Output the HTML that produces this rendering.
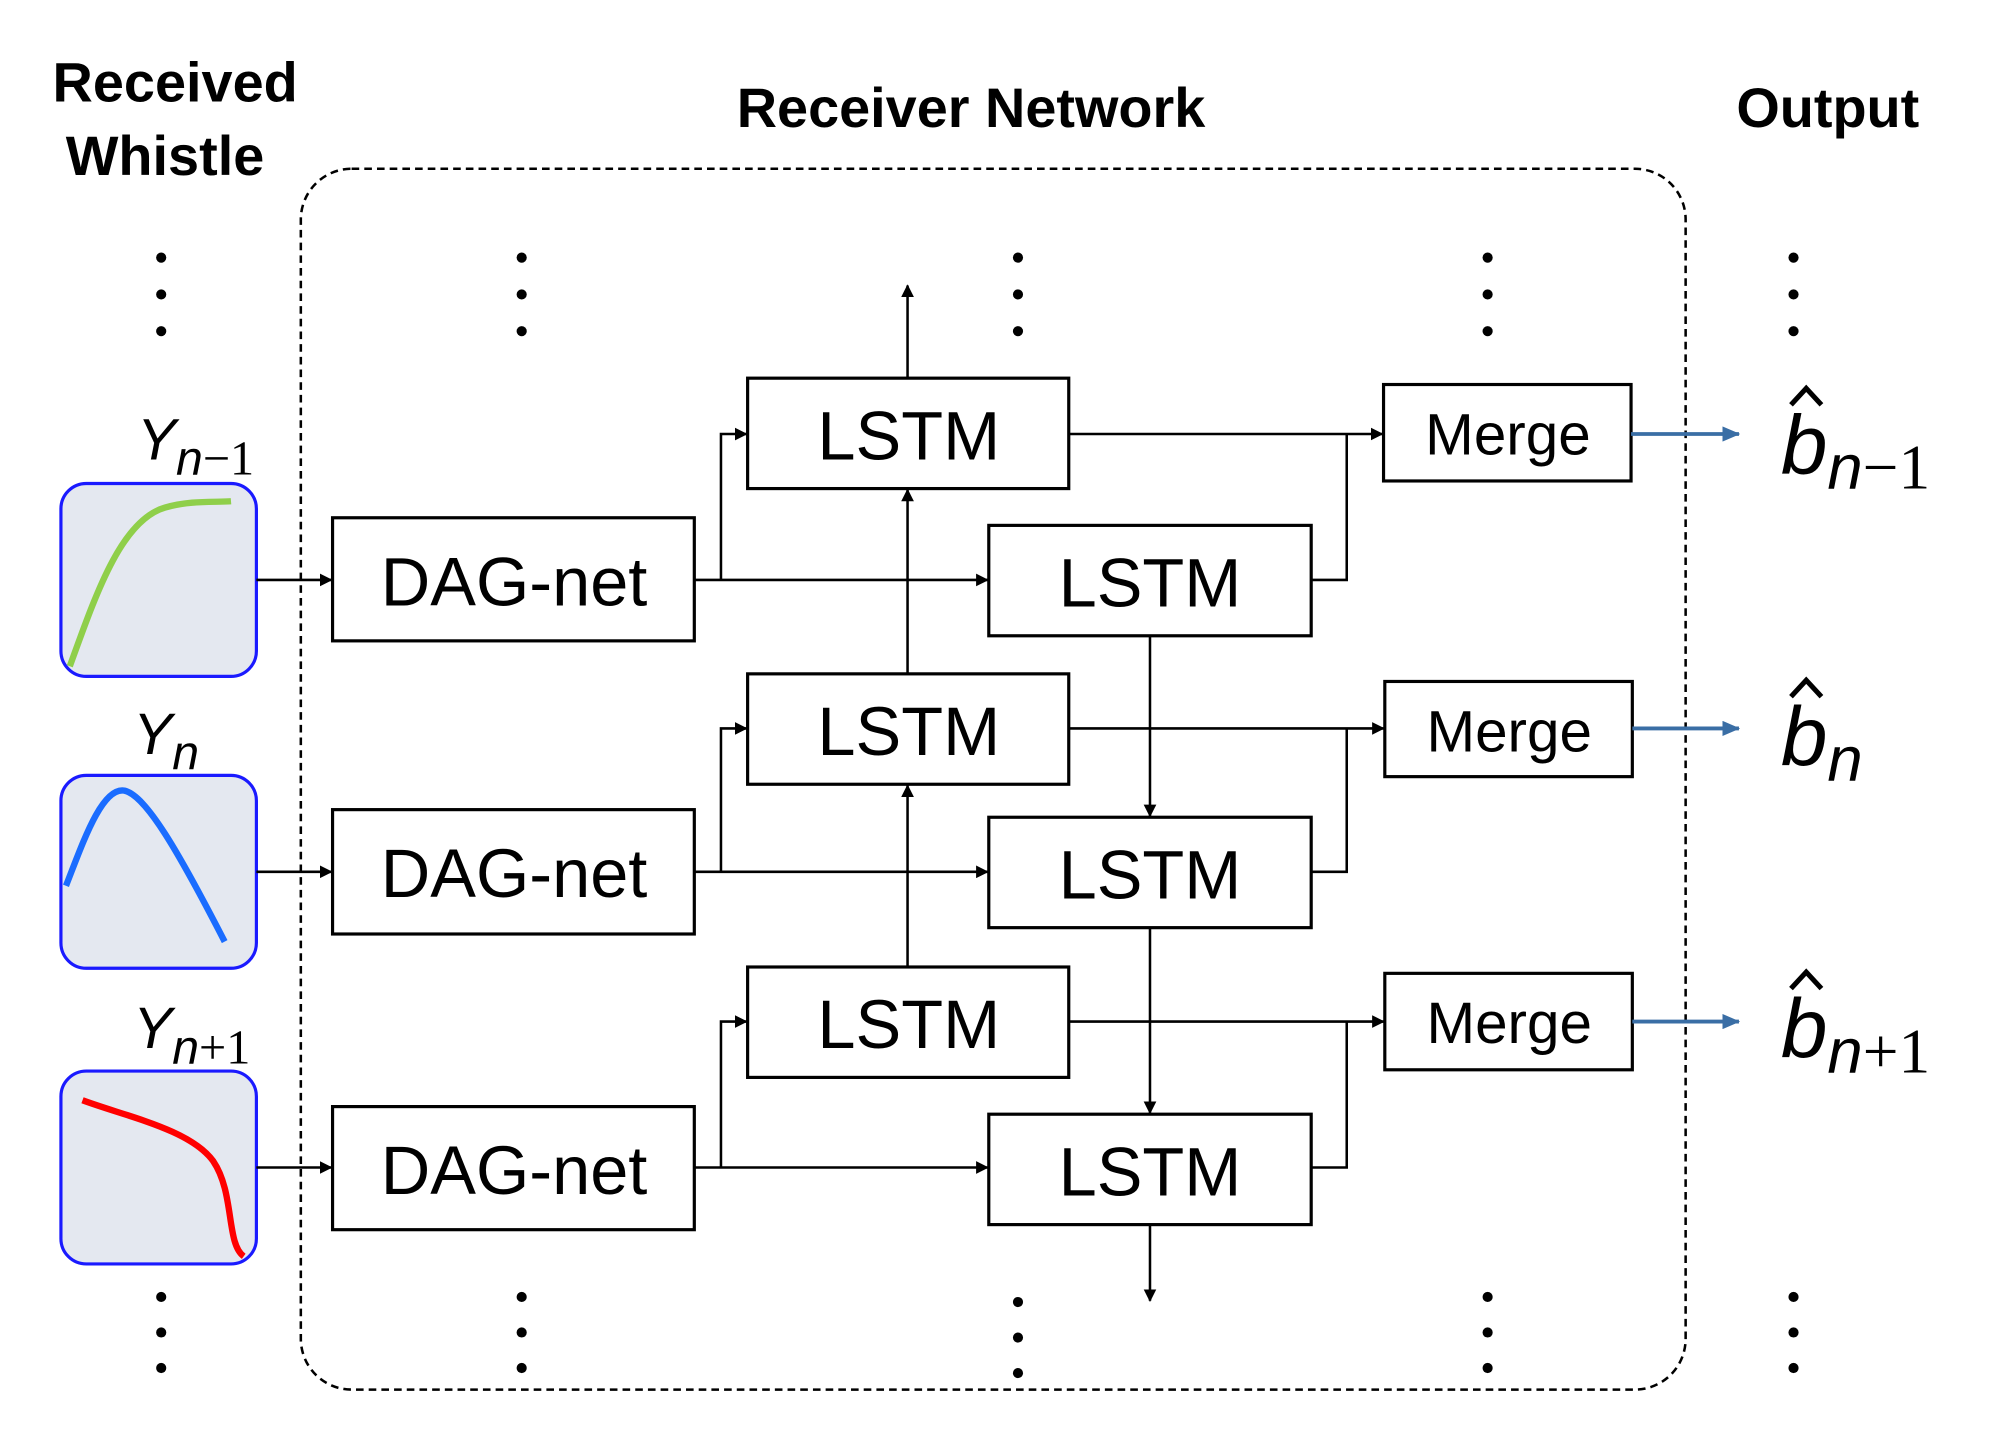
<!DOCTYPE html>
<html><head><meta charset="utf-8"><style>
html,body{margin:0;padding:0;background:#fff;}
svg{display:block;}
text{font-family:"Liberation Sans","DejaVu Sans",sans-serif;}
.m{font-family:"Liberation Serif","DejaVu Serif",serif;font-style:italic;}
.s{font-family:"Liberation Serif","DejaVu Serif",serif;font-style:normal;}
</style></head><body>
<svg width="1989" height="1434" viewBox="0 0 1567 1130" preserveAspectRatio="none" xmlns="http://www.w3.org/2000/svg">
<defs>
<marker id="a" markerWidth="10" markerHeight="10" refX="9" refY="5" orient="auto" markerUnits="userSpaceOnUse"><path d="M0,0 L10,5 L0,10 z" fill="#000"/></marker>
<marker id="b" markerWidth="14" markerHeight="12" refX="13" refY="6" orient="auto" markerUnits="userSpaceOnUse"><path d="M0,0 L14,6 L0,12 z" fill="#3a6ea5"/></marker>
</defs>
<g font-weight="bold" font-size="44" text-anchor="middle" fill="#000">
<text x="138" y="80">Received</text>
<text x="130" y="138">Whistle</text>
<text x="765" y="100">Receiver Network</text>
<text x="1440" y="100">Output</text>
</g>
<rect x="237" y="133" width="1091" height="962" rx="40" fill="none" stroke="#000" stroke-width="2" stroke-dasharray="6,4"/>
<g fill="#000">
<circle cx="127" cy="203" r="4"/><circle cx="127" cy="232" r="4"/><circle cx="127" cy="261" r="4"/>
<circle cx="411" cy="203" r="4"/><circle cx="411" cy="232" r="4"/><circle cx="411" cy="261" r="4"/>
<circle cx="802" cy="203" r="4"/><circle cx="802" cy="232" r="4"/><circle cx="802" cy="261" r="4"/>
<circle cx="1172" cy="203" r="4"/><circle cx="1172" cy="232" r="4"/><circle cx="1172" cy="261" r="4"/>
<circle cx="1413" cy="203" r="4"/><circle cx="1413" cy="232" r="4"/><circle cx="1413" cy="261" r="4"/>
<circle cx="127" cy="1022" r="4"/><circle cx="127" cy="1050" r="4"/><circle cx="127" cy="1078" r="4"/>
<circle cx="411" cy="1022" r="4"/><circle cx="411" cy="1050" r="4"/><circle cx="411" cy="1078" r="4"/>
<circle cx="802" cy="1026" r="4"/><circle cx="802" cy="1054" r="4"/><circle cx="802" cy="1082" r="4"/>
<circle cx="1172" cy="1022" r="4"/><circle cx="1172" cy="1050" r="4"/><circle cx="1172" cy="1078" r="4"/>
<circle cx="1413" cy="1022" r="4"/><circle cx="1413" cy="1050" r="4"/><circle cx="1413" cy="1078" r="4"/>
</g>
<g fill="#e4e8f0" stroke="#1a1aff" stroke-width="2.5">
<rect x="48" y="381" width="154" height="152" rx="20"/>
<rect x="48" y="611" width="154" height="152" rx="20"/>
<rect x="48" y="844" width="154" height="152" rx="20"/>
</g>
<path d="M55,525 C75,470 95,410 130,400 C150,394 170,396 182,395" fill="none" stroke="#8fcf4a" stroke-width="5"/>
<path d="M52,698 C65,665 80,620 98,623 C115,627 140,670 177,742" fill="none" stroke="#1a6cff" stroke-width="5"/>
<path d="M65,867 C100,880 150,890 168,915 C185,940 178,980 192,990" fill="none" stroke="#ff0000" stroke-width="5"/>
<g class="m" font-size="46" fill="#000">
<text x="108" y="362">Y<tspan font-size="38" dy="12">n</tspan><tspan class="s" font-size="38">−1</tspan></text>
<text x="105" y="594">Y<tspan font-size="38" dy="12">n</tspan></text>
<text x="105" y="826">Y<tspan font-size="38" dy="12">n</tspan><tspan class="s" font-size="38">+1</tspan></text>
</g>
<g fill="#fff" stroke="#000" stroke-width="2.5">
<rect x="262" y="408" width="285" height="97"/>
<rect x="262" y="638" width="285" height="98"/>
<rect x="262" y="872" width="285" height="97"/>
<rect x="589" y="298" width="253" height="87"/>
<rect x="589" y="531" width="253" height="87"/>
<rect x="589" y="762" width="253" height="87"/>
<rect x="779" y="414" width="254" height="87"/>
<rect x="779" y="644" width="254" height="87"/>
<rect x="779" y="878" width="254" height="87"/>
<rect x="1090" y="303" width="195" height="76"/>
<rect x="1091" y="537" width="195" height="75"/>
<rect x="1091" y="767" width="195" height="76"/>
</g>
<g font-size="54" text-anchor="middle" fill="#000">
<text x="405" y="477">DAG-net</text>
<text x="405" y="707">DAG-net</text>
<text x="405" y="941">DAG-net</text>
<text x="716" y="362">LSTM</text>
<text x="716" y="595">LSTM</text>
<text x="716" y="826">LSTM</text>
<text x="906" y="478">LSTM</text>
<text x="906" y="708">LSTM</text>
<text x="906" y="942">LSTM</text>
</g>
<g font-size="46" text-anchor="middle" fill="#000">
<text x="1188" y="358">Merge</text>
<text x="1189" y="592">Merge</text>
<text x="1189" y="822">Merge</text>
</g>
<g stroke="#000" stroke-width="2" fill="none">
<path d="M202,457 H261" marker-end="url(#a)"/>
<path d="M202,687 H261" marker-end="url(#a)"/>
<path d="M202,920 H261" marker-end="url(#a)"/>
<path d="M547,457 H778" marker-end="url(#a)"/>
<path d="M547,687 H778" marker-end="url(#a)"/>
<path d="M547,920 H778" marker-end="url(#a)"/>
<path d="M568,457 V342 H588" marker-end="url(#a)"/>
<path d="M568,687 V574 H588" marker-end="url(#a)"/>
<path d="M568,920 V805 H588" marker-end="url(#a)"/>
<path d="M842,342 H1089" marker-end="url(#a)"/>
<path d="M842,574 H1090" marker-end="url(#a)"/>
<path d="M842,805 H1090" marker-end="url(#a)"/>
<path d="M1033,457 H1061 V342"/>
<path d="M1033,687 H1061 V574"/>
<path d="M1033,920 H1061 V805"/>
<path d="M715,298 V225" marker-end="url(#a)"/>
<path d="M715,531 V386" marker-end="url(#a)"/>
<path d="M715,762 V619" marker-end="url(#a)"/>
<path d="M906,501 V643" marker-end="url(#a)"/>
<path d="M906,731 V877" marker-end="url(#a)"/>
<path d="M906,965 V1025" marker-end="url(#a)"/>
</g>
<g stroke="#3a6ea5" stroke-width="3" fill="none">
<path d="M1285,342 H1370" marker-end="url(#b)"/>
<path d="M1286,574 H1370" marker-end="url(#b)"/>
<path d="M1286,805 H1370" marker-end="url(#b)"/>
</g>
<g class="m" font-size="66" fill="#000">
<text x="1403" y="373">b<tspan font-size="50" dy="12">n</tspan><tspan class="s" font-size="50">−1</tspan></text>
<text x="1403" y="603">b<tspan font-size="50" dy="12">n</tspan></text>
<text x="1403" y="833">b<tspan font-size="50" dy="12">n</tspan><tspan class="s" font-size="50">+1</tspan></text>
</g>
<g stroke="#000" stroke-width="4" fill="none">
<path d="M1411,319 L1423,306 L1435,319"/>
<path d="M1411,549 L1423,536 L1435,549"/>
<path d="M1411,779 L1423,766 L1435,779"/>
</g>
</svg>
</body></html>
